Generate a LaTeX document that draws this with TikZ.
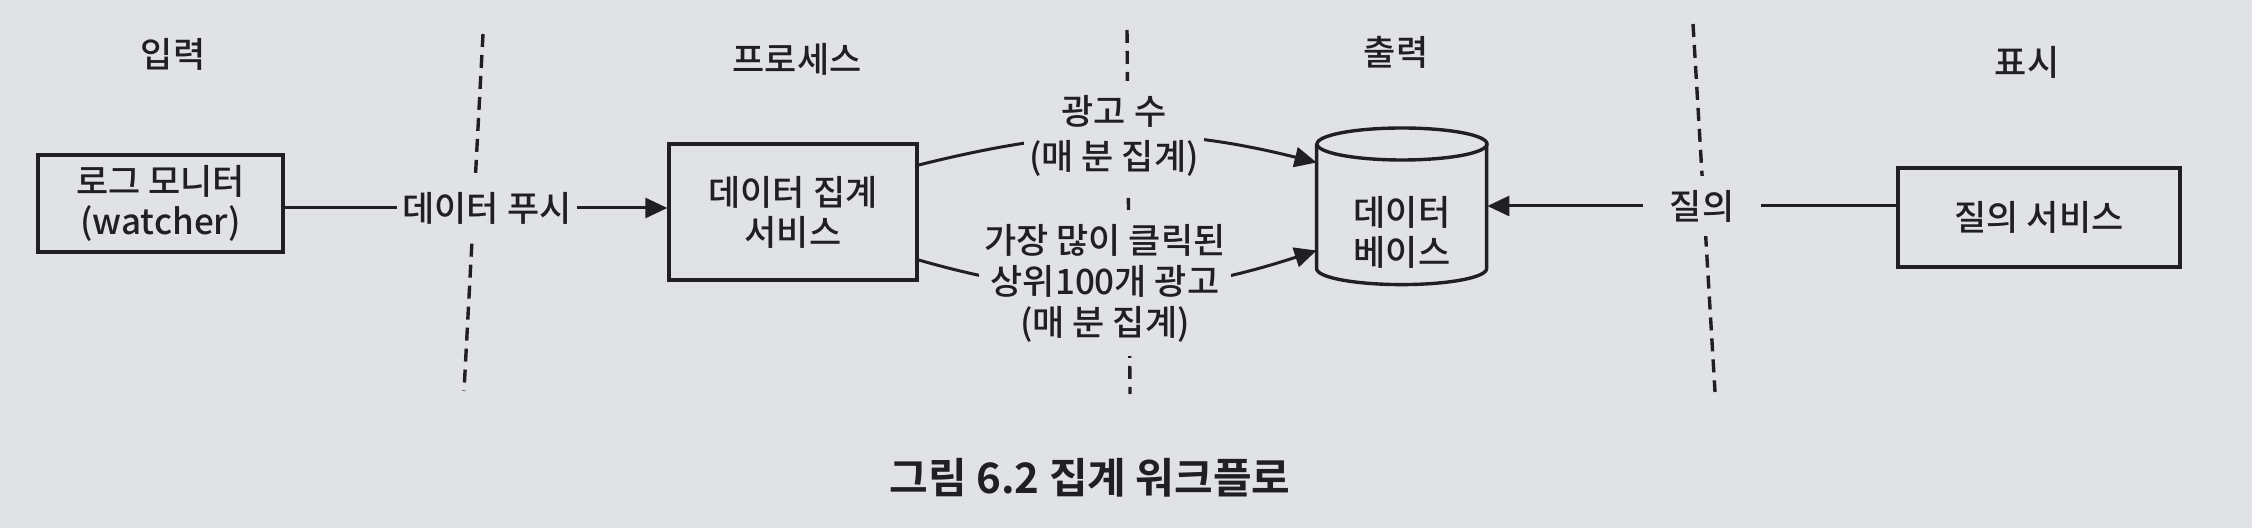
\documentclass[tikz,border=0pt]{standalone}
\usepackage{fontspec}
\setmainfont{Noto Sans CJK KR}[UprightFont=* Medium, BoldFont=* Bold]
\usetikzlibrary{arrows.meta,calc}
\definecolor{bg}{RGB}{224,226,229}
\definecolor{ink}{RGB}{32,32,34}
\begin{document}
\begin{tikzpicture}[x=0.5pt,y=-0.5pt,
  every node/.style={text=ink, font=\fontsize{17.5}{20}\selectfont},
  box/.style={draw=ink, line width=1.7pt, align=center, inner sep=0pt},
  lbl/.style={fill=bg, align=center, inner xsep=2.5pt, inner ysep=7pt},
  sect/.style={inner sep=0pt},
  sep/.style={draw=ink, line width=1.7pt, dash pattern=on 6.5pt off 4pt},
  conn/.style={draw=ink, line width=1.5pt},
  arr/.style={conn, -{Triangle[length=11pt,width=10pt]}},
]
\fill[bg] (0,0) rectangle (2252,528);
\useasboundingbox (0,0) rectangle (2252,528);

% section headers
\node[sect] (hin)  at (173,54) {입력};
\node[sect] (hpro) at (797,59) {프로세스};
\node[sect] (hout) at (1396,52) {출력};
\node[sect] (hdis) at (2027,62) {표시};

% dashed separators
\draw[sep] (483,34) -- (464,391);
\draw[sep] (1127,30) -- (1130,394);
\draw[sep] (1693,24) -- (1715,392);

% boxes
\node[box, minimum width=122.5pt, minimum height=48.5pt] (log) at (160.5,203.5)
  {로그 모니터\\(watcher)};
\node[box, minimum width=124pt, minimum height=68pt] (agg) at (793,212)
  {데이터 집계\\서비스};
\node[box, minimum width=141pt, minimum height=49.5pt] (qs) at (2039,217.5)
  {질의 서비스};

% database cylinder
\node[inner sep=0pt, minimum width=85pt, minimum height=78.5pt] (db) at (1402,206.5) {};
\draw[ink, line width=1.7pt] (db.north west) ++(0,16) -- ++(0,125)
  arc[start angle=180, end angle=0, x radius=85, y radius=16] -- ++(0,-125);
\draw[ink, line width=1.7pt] (1402,144) ellipse[x radius=85, y radius=16];
\node[align=center] (dbtext) at (1402,232) {데이터\\베이스};

% aggregation outputs
\draw[arr] ($(agg.east)+(0,-47)$) to[out=14,in=166] ($(db.west)+(0,-44)$);
\draw[arr] ($(agg.east)+(0,48)$) to[out=-16,in=-162] ($(db.west)+(0,44)$);
\node[lbl, font=\fontsize{17.5}{22.5}\selectfont] (cnt) at (1114,135.5) {광고 수\\(매 분 집계)};
\node[lbl, font=\fontsize{17.5}{20.5}\selectfont] (topk) at (1105,283) {가장 많이 클릭된\\상위100개 광고\\(매 분 집계)};

% data push
\node[lbl] (push) at (487,208) {데이터 푸시};
\draw[conn] (log.east |- push) -- (push.west);
\draw[arr] (push.east) -- (agg.west |- push);

% query
\node[lbl, inner xsep=13pt] (q) at (1702,206) {질의};
\draw[arr] (q.west) -- (db.east |- q);
\draw[conn] (qs.west |- q) -- (q.east);

% caption
\node[font=\fontsize{21}{25}\selectfont\bfseries] (cap) at (1090,478) {그림 6.2 집계 워크플로};
\end{tikzpicture}
\end{document}
